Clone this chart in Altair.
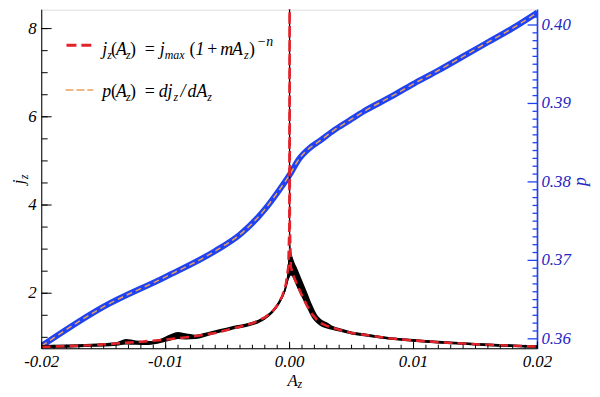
import altair as alt
import pandas as pd

# ---------------- data ----------------
# measured j_z (black band): centre and half thickness
az_obs = [-0.02, -0.018, -0.016, -0.014, -0.0132, -0.0124, -0.0114, -0.0104, -0.0096, -0.009,
          -0.0084, -0.0076, -0.0068, -0.006, -0.0052, -0.0044, -0.0036, -0.0028, -0.002, -0.0014,
          -0.001, -0.0006, -0.0003, -0.0001, 0.0, 0.0001, 0.0003, 0.0006, 0.001, 0.0014,
          0.0018, 0.0022, 0.0026, 0.003, 0.0034, 0.004, 0.005, 0.006, 0.008, 0.01,
          0.012, 0.014, 0.016, 0.018, 0.02]
jz_obs = [0.79, 0.80, 0.82, 0.85, 0.90, 0.88, 0.87, 0.92, 1.00, 1.04,
          1.02, 1.01, 1.06, 1.12, 1.17, 1.23, 1.27, 1.33, 1.44, 1.58,
          1.72, 1.92, 2.15, 2.45, 2.85, 2.70, 2.55, 2.35, 2.10, 1.85,
          1.60, 1.42, 1.32, 1.27, 1.22, 1.17, 1.10, 1.06, 0.98, 0.93,
          0.89, 0.86, 0.83, 0.81, 0.79]
jz_half = [0.035, 0.035, 0.035, 0.04, 0.06, 0.05, 0.045, 0.05, 0.07, 0.08,
           0.07, 0.05, 0.045, 0.04, 0.04, 0.04, 0.04, 0.04, 0.04, 0.04,
           0.045, 0.05, 0.07, 0.15, 0.5, 0.3, 0.22, 0.22, 0.2, 0.18,
           0.15, 0.1, 0.08, 0.07, 0.05, 0.04, 0.035, 0.035, 0.03, 0.03,
           0.03, 0.03, 0.03, 0.03, 0.03]
# thin spike of the measured profile at A_z = 0
az_spike = [0.0, 0.0]
jz_spike = [2.6, 9.5]

# fitted j_z(A_z) (red dashed)
az_fit = [-0.02, -0.018, -0.016, -0.014, -0.012, -0.01, -0.008, -0.006, -0.004, -0.003,
          -0.002, -0.0014, -0.001, -0.0006, -0.0003, -0.0001, -0.00002, 0.0, 0.00002, 0.0001,
          0.0003, 0.0006, 0.001, 0.0014, 0.0018, 0.0022, 0.0026, 0.003, 0.004, 0.005,
          0.006, 0.008, 0.01, 0.012, 0.014, 0.016, 0.018, 0.02]
jz_fit = [0.78, 0.80, 0.82, 0.86, 0.90, 0.95, 1.01, 1.10, 1.24, 1.32,
          1.45, 1.58, 1.72, 1.93, 2.20, 2.60, 3.50, 9.50, 3.50, 2.60,
          2.40, 2.20, 1.95, 1.72, 1.53, 1.40, 1.31, 1.26, 1.17, 1.10,
          1.06, 0.98, 0.93, 0.89, 0.86, 0.83, 0.81, 0.79]

# pressure p(A_z) (blue, right axis) and its dashed fit
az_p = [-0.02, -0.015, -0.01, -0.006, -0.004, -0.002, -0.001, 0.0, 0.0008, 0.0016,
        0.0024, 0.0036, 0.0048, 0.006, 0.008, 0.01, 0.012, 0.014, 0.016, 0.018, 0.02]
p_val = [0.3591, 0.3641, 0.3679, 0.3712, 0.3733, 0.3765, 0.3786, 0.3809, 0.3830, 0.3843,
         0.3852, 0.3866, 0.3878, 0.3890, 0.3907, 0.3925, 0.3942, 0.3960, 0.3978, 0.3996, 0.4016]

# axis tick values / labels
x_labels = [-0.02, -0.01, 0.0, 0.01, 0.02]
x_label_text = ["-0.02", "-0.01", "0.00", "0.01", "0.02"]
j_labels = [2, 4, 6, 8]
j_label_text = ["2", "4", "6", "8"]
p_labels = [0.36, 0.37, 0.38, 0.39, 0.40]
p_label_text = ["0.36", "0.37", "0.38", "0.39", "0.40"]
x_minor = [round(-0.02 + 0.001 * i, 4) for i in range(41)]
j_minor = [1.0 + 0.5 * i for i in range(15)]
p_minor = [round(0.359 + 0.001 * i, 4) for i in range(43)]

# ---------------- layout / style ----------------
W, H = 500, 342
FONT = "Liberation Serif"
BLUE = "#1f42f2"
BLUE_TXT = "#2626c4"
RED = "#e4222a"
ORANGE = "#e6a25e"

xscale = alt.Scale(domain=[-0.02, 0.02], nice=False, zero=False)
jscale = alt.Scale(domain=[0.742, 8.43], nice=False, zero=False)
pscale = alt.Scale(domain=[0.35874, 0.40196], nice=False, zero=False)

obs = pd.DataFrame({"az": az_obs, "mid": jz_obs, "half": jz_half})
obs["lo"] = obs["mid"] - obs["half"]
obs["hi"] = obs["mid"] + obs["half"]
spike = pd.DataFrame({"az": az_spike, "j": jz_spike})
fit = pd.DataFrame({"az": az_fit, "j": jz_fit})
pdat = pd.DataFrame({"az": az_p, "p": p_val})
dummy = pd.DataFrame({"d": [0]})

X = dict(scale=xscale, axis=None)

band = alt.Chart(obs).mark_area(color="black", clip=True, interpolate="monotone").encode(
    x=alt.X("az:Q", **X),
    y=alt.Y("lo:Q", scale=jscale, axis=None),
    y2="hi:Q",
)
band_line = alt.Chart(obs).mark_line(color="black", strokeWidth=2, clip=True,
                                     interpolate="monotone").encode(
    x=alt.X("az:Q", **X),
    y=alt.Y("mid:Q", scale=jscale, axis=None),
)
spike_line = alt.Chart(spike).mark_line(color="black", strokeWidth=1.3, clip=True).encode(
    x=alt.X("az:Q", **X),
    y=alt.Y("j:Q", scale=jscale, axis=None),
)
fit_line = alt.Chart(fit).mark_line(color=RED, strokeWidth=2.6, strokeDash=[9, 5], clip=True).encode(
    x=alt.X("az:Q", **X),
    y=alt.Y("j:Q", scale=jscale, axis=None),
)


def xticks(vals, length):
    return alt.Chart(pd.DataFrame({"t": vals})).mark_rule(color="black", strokeWidth=1).encode(
        x=alt.X("t:Q", **X), y=alt.value(H), y2=alt.value(H - length))


def jticks(vals, length):
    return alt.Chart(pd.DataFrame({"t": vals})).mark_rule(color="black", strokeWidth=1).encode(
        y=alt.Y("t:Q", scale=jscale, axis=None), x=alt.value(0), x2=alt.value(length))


def pticks(vals, length):
    return alt.Chart(pd.DataFrame({"t": vals})).mark_rule(color=BLUE, strokeWidth=1.3).encode(
        y=alt.Y("t:Q", scale=pscale, axis=None), x=alt.value(W), x2=alt.value(W - length))


lab_style = dict(font=FONT, fontStyle="italic", fontSize=17)
x_lab = alt.Chart(pd.DataFrame({"t": x_labels, "s": x_label_text})).mark_text(
    align="center", baseline="alphabetic", color="black", **lab_style).encode(
    x=alt.X("t:Q", **X), y=alt.value(H + 18), text="s:N")
j_lab = alt.Chart(pd.DataFrame({"t": j_labels, "s": j_label_text})).mark_text(
    align="right", baseline="middle", color="black", dx=-5, **lab_style).encode(
    y=alt.Y("t:Q", scale=jscale, axis=None), x=alt.value(0), text="s:N")
p_lab = alt.Chart(pd.DataFrame({"t": p_labels, "s": p_label_text})).mark_text(
    align="left", baseline="middle", color=BLUE_TXT, dx=4, **lab_style).encode(
    y=alt.Y("t:Q", scale=pscale, axis=None), x=alt.value(W), text="s:N")

left_dom = alt.Chart(dummy).mark_rule(color="black", strokeWidth=1).encode(
    x=alt.value(0), y=alt.value(0), y2=alt.value(H))
bottom_dom = alt.Chart(dummy).mark_rule(color="black", strokeWidth=1).encode(
    x=alt.value(0), x2=alt.value(W), y=alt.value(H))
right_dom = alt.Chart(dummy).mark_rule(color=BLUE, strokeWidth=1.6).encode(
    x=alt.value(W), y=alt.value(0), y2=alt.value(H))


def txt(s, px, py, size, style="italic", angle=0, color="black"):
    # px, py in page pixels; plot origin sits at (42, 8)
    return alt.Chart(dummy).mark_text(
        align="left", baseline="alphabetic", font=FONT, fontStyle=style,
        fontSize=size, angle=angle, color=color,
    ).encode(x=alt.value(px - 42), y=alt.value(py - 8), text=alt.value(s))


def seg(px1, px2, py, color, width, dash):
    return alt.Chart(dummy).mark_rule(color=color, strokeWidth=width, strokeDash=dash).encode(
        x=alt.value(px1 - 42), x2=alt.value(px2 - 42), y=alt.value(py - 8))


M, S = 18, 12
b1, b2 = 54, 96
legend_parts = [
    seg(67, 94, 44, RED, 3, [10, 5]),
    seg(66, 94, 89, ORANGE, 1.6, [8, 3]),
    # line 1: j_z(A_z) = j_max (1 + m A_z)^-n
    txt("j", 103, b1, M), txt("z", 108, b1 + 4, S), txt("(", 112, b1, M, "normal"),
    txt("A", 117, b1, M), txt("z", 127, b1 + 4, S), txt(")", 131, b1, M, "normal"),
    txt("=", 146, b1, M, "normal"), txt("j", 161, b1, M), txt("max", 166, b1 + 4, S),
    txt("(", 191, b1, M, "normal"), txt("1", 197, b1, M), txt("+", 209, b1, M, "normal"),
    txt("m", 222, b1, M), txt("A", 234, b1, M), txt("z", 246, b1 + 4, S),
    txt(")", 251, b1, M, "normal"), txt("\u2212n", 259, b1 - 9, 14),
    # line 2: p(A_z) = dj_z / dA_z
    txt("p", 103, b2, M), txt("(", 112, b2, M, "normal"), txt("A", 117, b2, M),
    txt("z", 127, b2 + 4, S), txt(")", 131, b2, M, "normal"), txt("=", 146, b2, M, "normal"),
    txt("dj", 160, b2, M), txt("z", 175, b2 + 4, S), txt("/", 182, b2, M),
    txt("dA", 189, b2, M), txt("z", 209, b2 + 4, S),
]
titles = [
    txt("A", 290, 388, 17), txt("z", 300, 390, S),
    txt("j", 24, 184, 17, angle=270), txt("z", 28, 179, S, angle=270),
    txt("p", 591, 186, M, angle=270, color=BLUE_TXT),
]

blue = alt.Chart(pdat).mark_line(color=BLUE, strokeWidth=6, clip=True,
                                 interpolate="monotone").encode(
    x=alt.X("az:Q", **X),
    y=alt.Y("p:Q", scale=pscale, axis=None),
)
orange = alt.Chart(pdat).mark_line(color=ORANGE, strokeWidth=1.5, strokeDash=[6, 4], clip=True,
                                   interpolate="monotone").encode(
    x=alt.X("az:Q", **X),
    y=alt.Y("p:Q", scale=pscale, axis=None),
)

right_group = alt.layer(
    blue, orange,
    pticks([v for v in p_minor if round(v * 100, 4) != round(v * 100)], 5),
    pticks(p_labels, 10),
    p_lab, right_dom,
)
left_group = alt.layer(
    band, band_line, spike_line, fit_line,
    xticks(x_minor, 4), xticks(x_labels, 7),
    jticks(j_minor, 6), jticks(j_labels, 10),
    left_dom, bottom_dom, x_lab, j_lab,
    *legend_parts, *titles,
)

chart = alt.layer(right_group, left_group).resolve_scale(y="independent").properties(
    width=W, height=H,
    autosize=alt.AutoSizeParams(type="none"),
    padding={"left": 34, "top": 0, "right": 55, "bottom": 40},
).configure_view(stroke=None).configure(background="white")

chart.save("out.html", embed_options={"renderer": "svg", "actions": False})
